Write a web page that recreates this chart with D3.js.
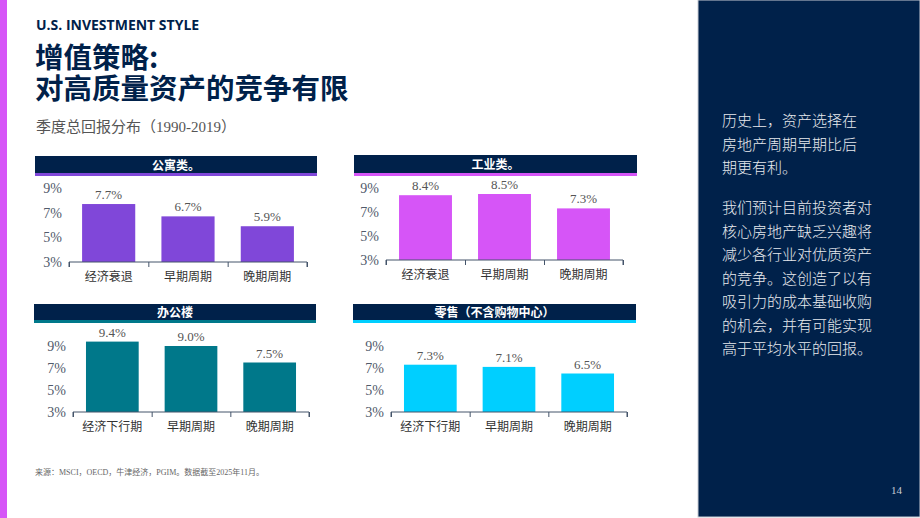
<!DOCTYPE html>
<html>
<head>
<meta charset="utf-8">
<script src="https://cdn.jsdelivr.net/npm/d3@7"></script>
<style>
  body { margin: 0; background: #fff; }
  svg { display: block; }
</style>
</head>
<body>
<svg id="drawing_region"></svg>
<script>
// data
const categoriesA = ['经济衰退', '早期周期', '晚期周期'];
const categoriesB = ['经济下行期', '早期周期', '晚期周期'];
const apartmentValues = [7.7, 6.7, 5.9];
const industrialValues = [8.4, 8.5, 7.3];
const officeValues = [9.4, 9.0, 7.5];
const retailValues = [7.3, 7.1, 6.5];
const yTicks = [3, 5, 7, 9];
const panelTitles = ['公寓类。', '工业类。', '办公楼', '零售（不含购物中心）'];
const titleLines = ['增值策略:', '对高质量资产的竞争有限'];
const sideText1 = ['历史上，资产选择在', '房地产周期早期比后', '期更有利。'];
const sideText2 = ['我们预计目前投资者对', '核心房地产缺乏兴趣将', '减少各行业对优质资产', '的竞争。这创造了以有', '吸引力的成本基础收购', '的机会，并有可能实现', '高于平均水平的回报。'];

const NAVY = '#00214a';
const CJK = '"Noto Sans CJK SC", "Noto Sans", sans-serif';
const SERIF = '"Liberation Serif", "Noto Sans CJK SC", serif';

const svg = d3.select('#drawing_region')
    .attr('width', 920)
    .attr('height', 518);

// left stripe + right panel
svg.append('rect').attr('x', 0).attr('y', 0).attr('width', 7).attr('height', 518).attr('fill', '#d655f7');
svg.append('rect').attr('x', 698).attr('y', 0).attr('width', 222).attr('height', 517)
    .attr('fill', NAVY).attr('stroke', '#c8ccd4').attr('stroke-width', 1);

// titles
svg.append('text').attr('x', 36).attr('y', 30).text('U.S. INVESTMENT STYLE')
    .attr('font-family', '"Open Sans", "Noto Sans", sans-serif').attr('font-weight', 'bold')
    .attr('font-size', 14).attr('fill', NAVY);
const title = svg.append('text').attr('font-family', CJK).attr('font-weight', 'bold')
    .attr('font-size', 28.5).attr('fill', NAVY);
title.selectAll('tspan').data(titleLines).enter().append('tspan')
    .attr('x', 35).attr('y', (d, i) => 68 + i * 30.5).text(d => d);
svg.append('text').attr('x', 36).attr('y', 132).text('季度总回报分布（1990-2019）')
    .attr('font-family', SERIF).attr('font-size', 15).attr('fill', '#555');

// footnote
svg.append('text').attr('x', 35).attr('y', 475).text('来源：MSCI，OECD，牛津经济，PGIM。数据截至2025年11月。')
    .attr('font-family', SERIF).attr('font-size', 8).attr('fill', '#666');

// side text
const side = svg.append('g').attr('font-family', CJK).attr('font-size', 15)
    .attr('font-weight', 300).attr('fill', '#e8eaee');
side.selectAll('text.p1').data(sideText1).enter().append('text').attr('class', 'p1')
    .attr('x', 722).attr('y', (d, i) => 126 + i * 23.5).text(d => d);
side.selectAll('text.p2').data(sideText2).enter().append('text').attr('class', 'p2')
    .attr('x', 722).attr('y', (d, i) => 213 + i * 23.5).text(d => d);
svg.append('text').attr('x', 891).attr('y', 494).text('14')
    .attr('font-family', SERIF).attr('font-size', 11).attr('fill', '#c8ccd4');

// panels
const panels = [
    { title: panelTitles[0], cats: categoriesA, values: apartmentValues, color: '#8047d9',
      hx: 35, hw: 282, hy: 156, hh: 19, x0: 69, x1: 307, yb: 262, yt: 188 },
    { title: panelTitles[1], cats: categoriesA, values: industrialValues, color: '#d655f7',
      hx: 354, hw: 283, hy: 155, hh: 20, x0: 386, x1: 623, yb: 260, yt: 188 },
    { title: panelTitles[2], cats: categoriesB, values: officeValues, color: '#00788a',
      hx: 34, hw: 282, hy: 304, hh: 18, x0: 73, x1: 309, yb: 412, yt: 346 },
    { title: panelTitles[3], cats: categoriesB, values: retailValues, color: '#00cfff',
      hx: 353, hw: 283, hy: 304, hh: 18, x0: 391, x1: 627, yb: 412, yt: 346 }
];

panels.forEach(p => {
    const g = svg.append('g');

    // header bar
    g.append('rect').attr('x', p.hx).attr('y', p.hy).attr('width', p.hw).attr('height', p.hh).attr('fill', NAVY);
    g.append('rect').attr('x', p.hx).attr('y', p.hy + p.hh - 2).attr('width', p.hw).attr('height', 3).attr('fill', p.color);
    g.append('text').attr('x', p.hx + p.hw / 2).attr('y', p.hy + p.hh / 2 + 4)
        .attr('text-anchor', 'middle').attr('font-family', CJK).attr('font-weight', 'bold')
        .attr('font-size', 12).attr('fill', '#fff').text(p.title);

    const xscale = d3.scaleBand().domain(p.cats).range([p.x0, p.x1])
        .paddingInner(0.33).paddingOuter(0.165);
    const xlin = d3.scaleLinear().domain([0, p.cats.length]).range([p.x0, p.x1]);
    const yscale = d3.scaleLinear().domain([3, 9]).range([p.yb, p.yt]);

    // y labels
    const yaxis = d3.axisLeft(yscale).tickValues(yTicks).tickSize(0).tickPadding(7)
        .tickFormat(d => d + '%');
    const yg = g.append('g').attr('transform', `translate(${p.x0},0)`).call(yaxis);
    yg.select('.domain').remove();
    yg.selectAll('text').attr('font-family', SERIF).attr('font-size', 14).attr('fill', '#505a6b');

    // bars
    g.selectAll('rect.bar').data(p.values).enter().append('rect').attr('class', 'bar')
        .attr('x', (d, i) => xscale(p.cats[i]))
        .attr('y', d => yscale(d))
        .attr('width', xscale.bandwidth())
        .attr('height', d => p.yb - yscale(d))
        .attr('fill', p.color);

    // value labels
    g.selectAll('text.val').data(p.values).enter().append('text').attr('class', 'val')
        .attr('x', (d, i) => xscale(p.cats[i]) + xscale.bandwidth() / 2)
        .attr('y', d => yscale(d) - 5)
        .attr('text-anchor', 'middle').attr('font-family', SERIF).attr('font-size', 13)
        .attr('fill', '#555').text(d => d.toFixed(1) + '%');

    // x axis with boundary ticks
    const xaxis = d3.axisBottom(xlin).tickValues(d3.range(p.cats.length + 1)).tickSize(5).tickFormat('');
    const xg = g.append('g').attr('transform', `translate(0,${p.yb})`).call(xaxis);
    xg.select('.domain').attr('stroke', '#44546a').attr('d', `M${p.x0},5V0H${p.x1}V5`);
    xg.selectAll('.tick line').attr('stroke', '#44546a');

    // category labels
    g.selectAll('text.cat').data(p.cats).enter().append('text').attr('class', 'cat')
        .attr('x', d => xscale(d) + xscale.bandwidth() / 2)
        .attr('y', p.yb + 19)
        .attr('text-anchor', 'middle').attr('font-family', CJK).attr('font-size', 12)
        .attr('fill', '#333').text(d => d);
});
</script>
</body>
</html>
